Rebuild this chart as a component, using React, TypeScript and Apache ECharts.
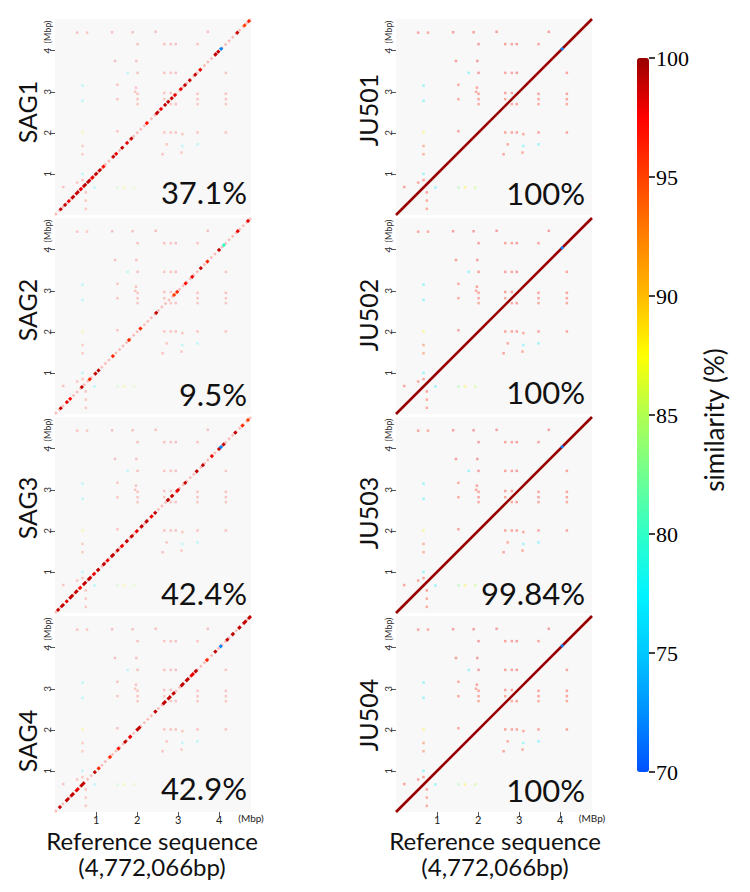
import React, { useEffect, useRef } from 'react';
import * as echarts from 'echarts';

// Reference genome length, in Mbp (4,772,066 bp)
const GENOME_MBP = 4.772066;
const AXIS_TICKS = [1, 2, 3, 4];
const COLORBAR_TICKS = [70, 75, 80, 85, 90, 95, 100];
const SIM_MIN = 70;
const SIM_MAX = 100;
// jet-like palette, evenly spread from 70% (bottom) to 100% (top)
const SIM_COLORS = [
  '#0050ff', '#0090ff', '#00c8ff', '#00f4ff', '#30ffc8', '#70ff90', '#b0ff50',
  '#ffff00', '#ffbb00', '#ff8000', '#ff4000', '#ff0000', '#990000',
];

const LEFT_NAMES = ['SAG1', 'SAG2', 'SAG3', 'SAG4'];
const RIGHT_NAMES = ['JU501', 'JU502', 'JU503', 'JU504'];
const LEFT_COVERAGE = ['37.1%', '9.5%', '42.4%', '42.9%'];
const RIGHT_COVERAGE = ['100%', '100%', '99.84%', '100%'];

// Collinear alignment blocks on the diagonal: [refStart, refEnd, similarity %]
const SAG1_BLOCKS = [
  [0.12, 0.16, 99], [0.22, 0.27, 99], [0.31, 0.36, 98], [0.40, 0.47, 99], [0.50, 0.58, 99],
  [0.60, 0.66, 98], [0.68, 0.76, 99], [0.78, 0.86, 99], [0.88, 0.94, 98], [0.97, 1.03, 99],
  [1.06, 1.12, 99], [1.16, 1.20, 97], [1.40, 1.44, 99], [1.48, 1.50, 98], [1.62, 1.65, 99],
  [1.74, 1.77, 98], [1.84, 1.88, 99], [2.22, 2.25, 97], [2.45, 2.52, 99], [2.56, 2.60, 98],
  [2.66, 2.70, 99], [2.73, 2.78, 99], [2.82, 2.86, 99], [2.90, 2.94, 98], [3.05, 3.08, 98],
  [3.15, 3.18, 99], [3.26, 3.30, 99], [3.40, 3.43, 99], [3.52, 3.55, 98], [3.88, 3.94, 99],
  [3.96, 3.99, 99], [4.03, 4.06, 72], [4.42, 4.46, 99], [4.60, 4.63, 95], [4.70, 4.74, 96],
];
const SAG2_BLOCKS = [
  [0.12, 0.16, 99], [0.27, 0.31, 98], [0.36, 0.38, 97], [0.64, 0.67, 99], [0.83, 0.86, 96],
  [0.97, 1.00, 99], [1.05, 1.07, 99], [1.40, 1.42, 96], [1.79, 1.81, 96], [2.06, 2.10, 96],
  [2.45, 2.48, 99], [2.88, 2.92, 95], [2.96, 2.99, 96], [3.17, 3.19, 97], [3.33, 3.35, 98],
  [3.54, 3.56, 99], [3.70, 3.72, 96], [3.98, 4.01, 99], [4.10, 4.12, 80], [4.44, 4.46, 98],
  [4.69, 4.71, 98],
];
const SAG3_BLOCKS = [
  [0.05, 0.10, 99], [0.14, 0.22, 99], [0.26, 0.31, 98], [0.35, 0.44, 99], [0.48, 0.55, 99],
  [0.58, 0.64, 97], [0.68, 0.76, 99], [0.80, 0.88, 99], [0.92, 0.98, 98], [1.02, 1.08, 99],
  [1.16, 1.22, 99], [1.26, 1.30, 98], [1.36, 1.44, 99], [1.50, 1.55, 99], [1.60, 1.66, 98],
  [1.72, 1.78, 99], [1.84, 1.90, 99], [1.96, 2.02, 98], [2.08, 2.14, 99], [2.20, 2.26, 99],
  [2.32, 2.38, 98], [2.42, 2.46, 99], [2.72, 2.78, 99], [2.82, 2.88, 99], [2.95, 3.02, 98],
  [3.15, 3.19, 99], [3.43, 3.47, 99], [3.58, 3.62, 99], [3.80, 3.84, 98], [3.98, 4.01, 99],
  [4.03, 4.05, 72], [4.09, 4.12, 99], [4.37, 4.41, 99], [4.55, 4.58, 96], [4.68, 4.72, 95],
];
const SAG4_BLOCKS = [
  [0.10, 0.14, 99], [0.26, 0.34, 99], [0.38, 0.46, 99], [0.50, 0.58, 98], [0.62, 0.72, 99],
  [0.95, 0.99, 99], [1.05, 1.08, 96], [1.32, 1.36, 96], [1.52, 1.57, 97], [1.68, 1.74, 99],
  [1.80, 1.86, 98], [1.98, 2.08, 99], [2.42, 2.47, 99], [2.62, 2.70, 99], [2.74, 2.82, 99],
  [2.86, 2.92, 99], [3.06, 3.14, 99], [3.18, 3.26, 99], [3.30, 3.38, 98], [3.40, 3.46, 99],
  [3.68, 3.72, 96], [3.88, 3.93, 99], [4.02, 4.05, 72], [4.17, 4.22, 99], [4.30, 4.36, 99],
  [4.46, 4.52, 99], [4.58, 4.66, 99], [4.70, 4.77, 99],
];
const JU501_BLOCKS = [[0, GENOME_MBP, 100], [4.03, 4.06, 72]];
const JU502_BLOCKS = [[0, GENOME_MBP, 100], [4.03, 4.06, 72]];
const JU503_BLOCKS = [[0, GENOME_MBP, 100], [4.03, 4.06, 72]];
const JU504_BLOCKS = [[0, GENOME_MBP, 100], [4.03, 4.06, 72]];

// Low-identity background trace along the diagonal of the partial assemblies
const SAG_TRACE = [[0, GENOME_MBP, 97]];

// Off-diagonal repeat hits: [refPos Mbp, queryPos Mbp, similarity %]
const REPEAT_HITS = [
  [0.54, 4.44, 97], [0.78, 4.44, 96], [1.39, 4.45, 98], [1.89, 4.45, 98], [2.45, 4.46, 98], [3.72, 4.46, 98],
  [2.01, 4.16, 98], [2.66, 4.16, 97], [2.82, 4.16, 97], [2.94, 4.16, 98], [3.47, 4.16, 97],
  [1.46, 3.75, 98], [1.98, 3.75, 98],
  [2.01, 3.46, 98], [2.66, 3.46, 97], [2.82, 3.46, 97], [2.94, 3.46, 98], [4.16, 3.46, 97], [1.77, 3.46, 77],
  [0.67, 3.15, 77], [1.52, 3.17, 96], [1.97, 3.10, 97], [1.95, 3.00, 96],
  [2.01, 2.95, 97], [2.01, 2.82, 97], [2.01, 2.70, 96], [2.66, 2.97, 97], [2.82, 2.97, 97],
  [2.66, 2.82, 96], [2.82, 2.70, 96], [2.94, 2.70, 97], [3.47, 2.95, 97], [3.47, 2.82, 97],
  [3.47, 2.70, 96], [4.16, 2.95, 97], [4.16, 2.82, 97], [4.16, 2.70, 96], [1.52, 2.82, 96], [0.67, 2.78, 77],
  [0.67, 2.01, 88], [2.66, 2.01, 97], [2.82, 2.01, 97], [2.94, 2.01, 97], [3.10, 1.97, 96],
  [3.47, 2.01, 97], [4.16, 2.01, 97], [1.52, 2.04, 97],
  [0.67, 1.68, 95], [0.67, 1.48, 95], [0.67, 1.00, 77], [0.67, 0.85, 97],
  [2.72, 1.72, 96], [3.08, 1.52, 96], [2.62, 1.48, 97], [3.47, 1.72, 77], [3.10, 1.68, 78],
  [0.96, 0.67, 77], [1.52, 0.67, 83], [1.68, 0.67, 88], [1.93, 0.67, 85],
  [0.54, 0.79, 97], [0.75, 0.55, 97], [0.75, 0.35, 96], [0.75, 0.15, 96], [0.20, 0.68, 97],
];

const LEFT_BLOCKS = [SAG1_BLOCKS, SAG2_BLOCKS, SAG3_BLOCKS, SAG4_BLOCKS];
const RIGHT_BLOCKS = [JU501_BLOCKS, JU502_BLOCKS, JU503_BLOCKS, JU504_BLOCKS];

// layout
const PANEL_TOPS = [19, 218, 417, 616];
const PANEL_SIZE = 196;
const COL_LEFT = [55, 396];
const NAME_X = [27, 368];
const LEFT_NAME_Y = [112, 310, 508, 741];
const RIGHT_NAME_Y = [110, 315, 513, 715];
const COVER_RIGHT_EDGE = [247, 585];
const LEFT_COVER_Y = [192, 394, 593, 788];
const RIGHT_COVER_Y = [193, 392, 593, 790];
const BAR_LEFT = 637;
const BAR_TOP = 58;
const BAR_HEIGHT = 714;
const FONT = 'Lato, "Open Sans", sans-serif';

// Draws each alignment block as a stroke along the diagonal, never shorter than minLen px
function diagonalRenderer(width: number, opacity: number, dash: number[] | null, minLen: number) {
  return (_params: any, api: any) => {
    const a = api.coord([api.value(0), api.value(0)]);
    const b = api.coord([api.value(1), api.value(1)]);
    let x1 = a[0], y1 = a[1], x2 = b[0], y2 = b[1];
    const len = Math.hypot(x2 - x1, y2 - y1);
    if (len < minLen) {
      const cx = (x1 + x2) / 2, cy = (y1 + y2) / 2;
      const h = minLen / 2 / Math.SQRT2;
      x1 = cx - h; x2 = cx + h; y1 = cy + h; y2 = cy - h;
    }
    return {
      type: 'line',
      shape: { x1, y1, x2, y2 },
      style: {
        stroke: api.visual('color'),
        lineWidth: width,
        opacity,
        lineDash: dash || undefined,
        lineCap: 'butt',
      },
    };
  };
}

function buildOption() {
  const grid: any[] = [];
  const xAxis: any[] = [];
  const yAxis: any[] = [];
  const series: any[] = [];
  const graphic: any[] = [];

  for (let col = 0; col < 2; col++) {
    for (let row = 0; row < 4; row++) {
      const idx = grid.length;
      const isSag = col === 0;
      const bottom = row === 3;
      grid.push({
        left: COL_LEFT[col], top: PANEL_TOPS[row], width: PANEL_SIZE, height: PANEL_SIZE,
        show: true, backgroundColor: '#f8f8f8', borderWidth: 0, containLabel: false,
      });
      xAxis.push({
        gridIndex: idx, type: 'value', min: 0, max: GENOME_MBP, interval: 1,
        axisLine: { show: false }, splitLine: { show: false },
        axisTick: { show: bottom, length: 5, customValues: AXIS_TICKS, lineStyle: { color: '#555', width: 1 } },
        axisLabel: {
          show: bottom, customValues: AXIS_TICKS, fontSize: 11, lineHeight: 11, color: '#222', fontFamily: FONT, margin: 2,
        },
      });
      yAxis.push({
        gridIndex: idx, type: 'value', min: 0, max: GENOME_MBP, interval: 1,
        axisLine: { show: false }, splitLine: { show: false },
        axisTick: { show: true, length: 5, customValues: AXIS_TICKS, lineStyle: { color: '#555', width: 1 } },
        axisLabel: {
          show: true, customValues: AXIS_TICKS, rotate: 90, fontSize: 10, color: '#333', fontFamily: FONT, margin: 3,
        },
      });

      series.push({
        type: 'scatter', xAxisIndex: idx, yAxisIndex: idx, data: REPEAT_HITS,
        symbol: 'rect', symbolSize: [2.5, 2.5], silent: true,
        itemStyle: { opacity: isSag ? 0.22 : 0.35 },
      });
      if (isSag) {
        series.push({
          type: 'custom', xAxisIndex: idx, yAxisIndex: idx, data: SAG_TRACE, silent: true,
          encode: { x: 0, y: 1 },
          renderItem: diagonalRenderer(2.5, 0.25, [2.5, 2.5], 0),
        });
      }
      series.push({
        type: 'custom', xAxisIndex: idx, yAxisIndex: idx,
        data: isSag ? LEFT_BLOCKS[row] : RIGHT_BLOCKS[row], silent: true,
        encode: { x: 0, y: 1 },
        renderItem: isSag ? diagonalRenderer(3, 1, null, 3) : diagonalRenderer(2.6, 1, null, 3),
      });

      const name = isSag ? LEFT_NAMES[row] : RIGHT_NAMES[row];
      graphic.push({
        type: 'text', x: NAME_X[col], y: isSag ? LEFT_NAME_Y[row] : RIGHT_NAME_Y[row], rotation: Math.PI / 2,
        style: { text: name, fontSize: 25, fontFamily: FONT, fill: '#111', align: 'center', verticalAlign: 'middle' },
      });
      graphic.push({
        type: 'text', x: COVER_RIGHT_EDGE[col], y: isSag ? LEFT_COVER_Y[row] : RIGHT_COVER_Y[row],
        style: {
          text: isSag ? LEFT_COVERAGE[row] : RIGHT_COVERAGE[row], fontSize: 31, fontFamily: FONT,
          fill: '#111', align: 'right', verticalAlign: 'middle',
        },
      });
      graphic.push({
        type: 'text', x: COL_LEFT[col] - 8, y: PANEL_TOPS[row] + 13, rotation: Math.PI / 2,
        style: { text: '(Mbp)', fontSize: 9, fontFamily: FONT, fill: '#333', align: 'center', verticalAlign: 'middle' },
      });
    }
  }

  // x-axis captions under the bottom panels
  const captionX = [152, 495];
  const unit = ['(Mbp)', '(MBp)'];
  for (let col = 0; col < 2; col++) {
    graphic.push({
      type: 'text', x: COL_LEFT[col] + PANEL_SIZE, y: 818,
      style: { text: unit[col], fontSize: 10, lineHeight: 10, fontFamily: FONT, fill: '#222', align: 'center', verticalAlign: 'middle' },
    });
    graphic.push({
      type: 'text', x: captionX[col], y: 853,
      style: {
        text: 'Reference sequence\n(4,772,066bp)', fontSize: 24, lineHeight: 26, fontFamily: FONT,
        fill: '#111', align: 'center', verticalAlign: 'middle',
      },
    });
  }

  // colour-bar tick axis
  const barAxisIdx = grid.length;
  grid.push({ left: BAR_LEFT + 12, top: BAR_TOP, width: 30, height: BAR_HEIGHT, show: false, containLabel: false });
  xAxis.push({ gridIndex: barAxisIdx, type: 'value', show: false, min: 0, max: 1 });
  yAxis.push({
    gridIndex: barAxisIdx, type: 'value', min: SIM_MIN, max: SIM_MAX, interval: 5, position: 'left',
    axisLine: { show: false }, splitLine: { show: false },
    axisTick: { show: true, inside: true, length: 6, customValues: COLORBAR_TICKS, lineStyle: { color: '#000', width: 1.5 } },
    axisLabel: {
      show: true, inside: true, margin: 7, customValues: COLORBAR_TICKS,
      fontSize: 22, color: '#000', fontFamily: '"Liberation Serif", "DejaVu Serif", serif',
    },
  });
  graphic.push({
    type: 'text', x: 714, y: 420, rotation: Math.PI / 2,
    style: { text: 'similarity (%)', fontSize: 26, fontFamily: FONT, fill: '#111', align: 'center', verticalAlign: 'middle' },
  });

  return {
    animation: false,
    backgroundColor: '#ffffff',
    grid,
    xAxis,
    yAxis,
    visualMap: {
      type: 'continuous', min: SIM_MIN, max: SIM_MAX, dimension: 2,
      seriesIndex: series.map((_s, i) => i),
      inRange: { color: SIM_COLORS },
      show: true, calculable: false, hoverLink: false, orient: 'vertical',
      left: BAR_LEFT, top: BAR_TOP, itemWidth: 12, itemHeight: BAR_HEIGHT, padding: 0,
    },
    series,
    graphic,
  };
}

export default function App() {
  const ref = useRef<HTMLDivElement>(null);
  useEffect(() => {
    document.body.style.margin = '0';
    const chart = echarts.init(ref.current!, null, { renderer: 'svg' });
    chart.setOption(buildOption() as any);
    return () => chart.dispose();
  }, []);
  return <div ref={ref} style={{ width: 750, height: 892 }} />;
}
